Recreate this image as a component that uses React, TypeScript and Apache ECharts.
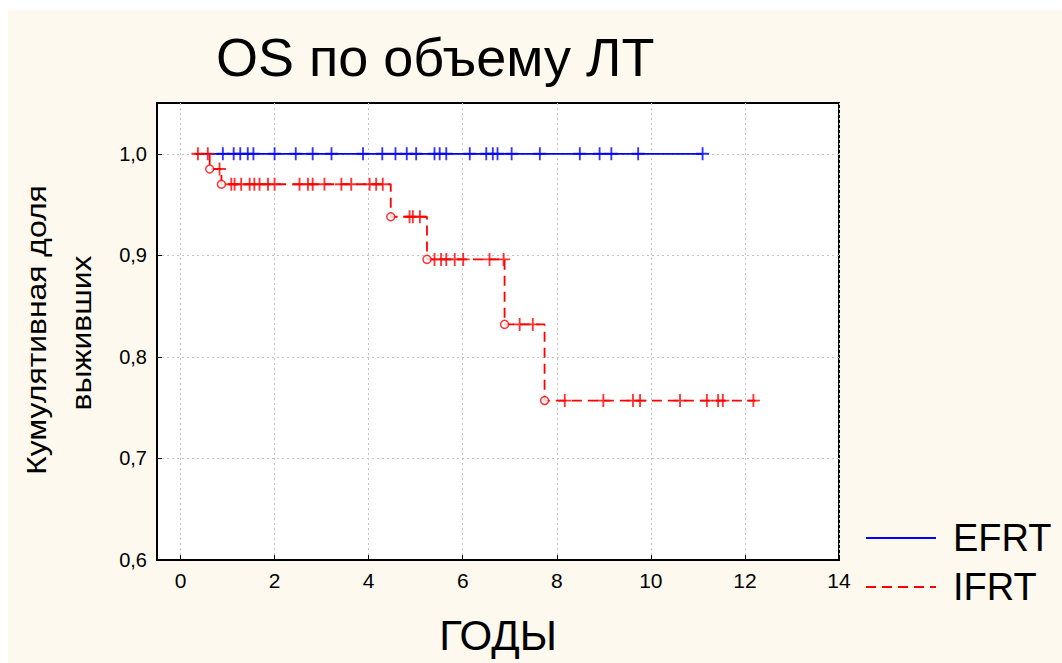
import React, { useEffect, useRef } from "react";
import * as echarts from "echarts";

// Axis ticks
const xTicks = [0, 2, 4, 6, 8, 10, 12, 14];
const yTicks = [0.6, 0.7, 0.8, 0.9, 1.0];

// EFRT group: no deaths, only censored observations (years)
const efrtStart = 0.3;
const efrtEnd = 11.1;
const efrtCensored = [
  0.9, 1.13, 1.27, 1.43, 1.55, 2.0, 2.45, 2.81, 3.21, 3.88, 4.29, 4.57, 4.81,
  5.01, 5.4, 5.51, 5.65, 6.15, 6.5, 6.64, 6.74, 7.04, 7.64, 8.49, 8.91, 9.16,
  9.73, 11.1,
];

// IFRT group: deaths (time, cumulative survival after the event) and censored times
const ifrtStart = 0.3;
const ifrtEnd = 12.22;
const ifrtEventTimes = [0.62, 0.87, 4.47, 5.24, 6.89, 7.74];
const ifrtEventSurvival = [0.985, 0.97, 0.938, 0.896, 0.832, 0.757];
const ifrtCensored = [
  0.37, 0.58, 0.83, 1.08, 1.15, 1.29, 1.47, 1.57, 1.68, 1.86, 2.0, 2.53, 2.71,
  2.81, 3.06, 3.42, 3.63, 4.02, 4.16, 4.3, 4.87, 4.94, 5.09, 5.4, 5.54, 5.65,
  5.83, 6.01, 6.57, 6.87, 7.21, 7.49, 8.17, 8.99, 9.62, 9.77, 10.62, 11.19,
  11.43, 11.53, 12.18,
];

const FONT = "'Liberation Sans', Arial, sans-serif";
const BLUE = "#0000ff";
const RED = "#ff0000";
const PLUS = "path://M6,0 H8 V6 H14 V8 H8 V14 H6 V8 H0 V6 H6 Z";

function survivalAt(t: number, times: number[], surv: number[]): number {
  let s = 1;
  for (let i = 0; i < times.length; i++) {
    if (times[i] <= t) s = surv[i];
  }
  return s;
}

function stepPath(start: number, end: number, times: number[], surv: number[]) {
  const pts: number[][] = [[start, 1]];
  let prev = 1;
  for (let i = 0; i < times.length; i++) {
    pts.push([times[i], prev]);
    pts.push([times[i], surv[i]]);
    prev = surv[i];
  }
  pts.push([end, prev]);
  return pts;
}

export default function App() {
  const ref = useRef<HTMLDivElement>(null);

  useEffect(() => {
    if (!ref.current) return;
    const chart = echarts.init(ref.current, undefined, { renderer: "svg" });

    const efrtLine = stepPath(efrtStart, efrtEnd, [], []);
    const ifrtLine = stepPath(ifrtStart, ifrtEnd, ifrtEventTimes, ifrtEventSurvival);
    const efrtMarks = efrtCensored.map((t) => [t, survivalAt(t, [], [])]);
    const ifrtMarks = ifrtCensored.map((t) => [
      t,
      survivalAt(t, ifrtEventTimes, ifrtEventSurvival),
    ]);
    const ifrtEvents = ifrtEventTimes.map((t, i) => [t, ifrtEventSurvival[i]]);

    chart.setOption({
      animation: false,
      backgroundColor: "#fdf9ee",
      title: {
        text: "OS по объему ЛТ",
        left: 211,
        top: 25,
        textStyle: {
          fontFamily: FONT,
          fontSize: 54,
          fontWeight: "normal",
          color: "#000",
        },
      },
      graphic: [
        { type: "rect", shape: { x: 0, y: 0, width: 1062, height: 10 }, style: { fill: "#fff" }, silent: true },
        { type: "rect", shape: { x: 0, y: 0, width: 8, height: 663 }, style: { fill: "#fff" }, silent: true },
        {
          type: "text",
          x: 36,
          y: 330,
          rotation: Math.PI / 2,
          scaleX: 1.18,
          style: {
            text: "Кумулятивная доля",
            fontFamily: FONT,
            fontSize: 27,
            fill: "#000",
            align: "center",
            verticalAlign: "middle",
          },
        },
        {
          type: "text",
          x: 81,
          y: 333,
          rotation: Math.PI / 2,
          scaleX: 1.18,
          style: {
            text: "выживших",
            fontFamily: FONT,
            fontSize: 27,
            fill: "#000",
            align: "center",
            verticalAlign: "middle",
          },
        },
      ],
      legend: {
        data: ["EFRT", "IFRT"],
        orient: "vertical",
        left: 860,
        top: 514,
        itemWidth: 70,
        itemHeight: 14,
        itemGap: 11,
        selectedMode: false,
        itemStyle: { opacity: 0 },
        textStyle: {
          fontFamily: FONT,
          fontSize: 38,
          color: "#000",
          padding: [0, 0, 0, 12],
        },
      },
      grid: {
        left: 157,
        right: 223,
        top: 103,
        bottom: 103,
        show: true,
        backgroundColor: "#fff",
        borderColor: "#000",
        borderWidth: 2,
        outerBoundsMode: "none",
      },
      xAxis: {
        type: "value",
        min: -0.5,
        max: 14,
        name: "ГОДЫ",
        nameLocation: "middle",
        nameGap: 54,
        nameTextStyle: { fontFamily: FONT, fontSize: 42, color: "#000" },
        axisLine: { show: true, onZero: false, lineStyle: { color: "#000", width: 2 } },
        axisTick: {
          show: true,
          inside: true,
          length: 5,
          customValues: xTicks,
          lineStyle: { color: "#000" },
        },
        axisLabel: {
          customValues: xTicks,
          fontFamily: FONT,
          fontSize: 21,
          color: "#000",
          margin: 10,
        },
        splitLine: {
          show: true,
          lineStyle: { color: "#c4c4c4", type: [2, 3], width: 1 },
        },
      },
      yAxis: {
        type: "value",
        min: 0.6,
        max: 1.05,
        axisLine: { show: true, onZero: false, lineStyle: { color: "#000", width: 2 } },
        axisTick: {
          show: true,
          inside: true,
          length: 5,
          customValues: yTicks,
          lineStyle: { color: "#000" },
        },
        axisLabel: {
          customValues: yTicks,
          fontFamily: FONT,
          fontSize: 20,
          color: "#000",
          margin: 10,
          formatter: (v: number) => v.toFixed(1).replace(".", ","),
        },
        splitLine: {
          show: true,
          lineStyle: { color: "#c4c4c4", type: [2, 3], width: 1 },
        },
      },
      series: [
        {
          name: "EFRT",
          type: "line",
          data: efrtLine,
          symbol: "none",
          color: BLUE,
          lineStyle: { color: BLUE, width: 1.8 },
          z: 2,
        },
        {
          name: "EFRT (цензурированные)",
          type: "scatter",
          data: efrtMarks,
          symbol: PLUS,
          symbolSize: 13,
          itemStyle: { color: BLUE },
          z: 3,
        },
        {
          name: "IFRT",
          type: "line",
          data: ifrtLine,
          symbol: "none",
          color: RED,
          lineStyle: { color: RED, width: 1.8, type: [10, 6] },
          z: 4,
        },
        {
          name: "IFRT (цензурированные)",
          type: "scatter",
          data: ifrtMarks,
          symbol: PLUS,
          symbolSize: 13,
          itemStyle: { color: RED },
          z: 5,
        },
        {
          name: "IFRT (события)",
          type: "scatter",
          data: ifrtEvents,
          symbol: "circle",
          symbolSize: 8,
          itemStyle: { color: "#fff", borderColor: RED, borderWidth: 1.5 },
          z: 6,
        },
      ],
    });

    return () => chart.dispose();
  }, []);

  return (
    <div
      ref={ref}
      style={{ position: "fixed", left: 0, top: 0, width: 1062, height: 663 }}
    />
  );
}
